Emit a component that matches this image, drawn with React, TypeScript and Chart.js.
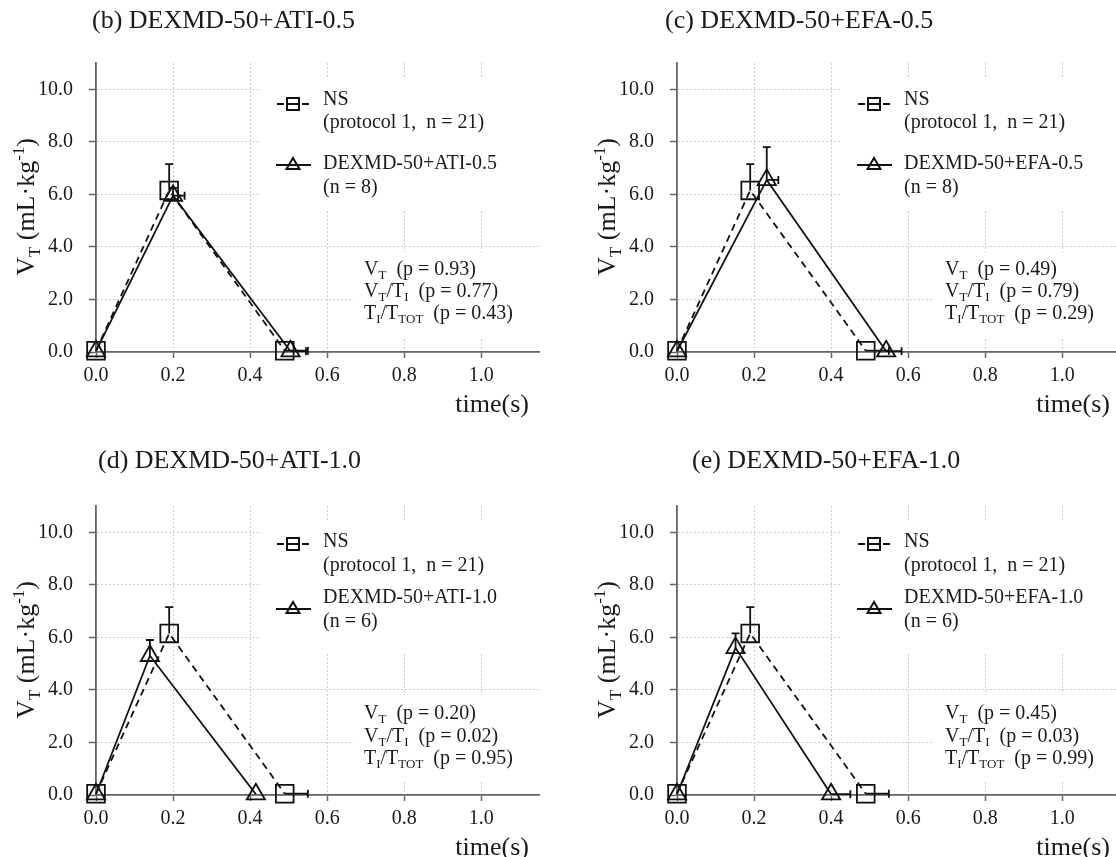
import React, { useEffect, useRef } from "react";
import Chart from "chart.js/auto";

const FONT = '"Liberation Serif", "Times New Roman", serif';

// ---- data ----
const xTickValues = [0, 0.2, 0.4, 0.6, 0.8, 1.0];
const yTickValues = [0, 2, 4, 6, 8, 10];
const X_MAX = 1.15;
const Y_MAX = 11;

// NS (protocol 1, n = 21): same control in every panel
const nsTime = [0, 0.19, 0.49];
const nsVt = [0.05, 6.15, 0.05];
const nsErrUp = [0, 1.0, 0];
const nsErrRight = [0, 0, 0.06];

const panelTitles = [
  "(b) DEXMD-50+ATI-0.5",
  "(c) DEXMD-50+EFA-0.5",
  "(d) DEXMD-50+ATI-1.0",
  "(e) DEXMD-50+EFA-1.0",
];
const groupNames = ["DEXMD-50+ATI-0.5", "DEXMD-50+EFA-0.5", "DEXMD-50+ATI-1.0", "DEXMD-50+EFA-1.0"];
const groupN = [8, 8, 6, 6];

const bTime = [0, 0.2, 0.505];
const bVt = [0.03, 5.95, 0.03];
const bErrUp = [0, 0.3, 0];
const bErrRight = [0, 0.03, 0.04];

const cTime = [0, 0.233, 0.543];
const cVt = [0.03, 6.55, 0.03];
const cErrUp = [0, 1.25, 0];
const cErrRight = [0, 0.03, 0.04];

const dTime = [0, 0.14, 0.415];
const dVt = [0.03, 5.3, 0.03];
const dErrUp = [0, 0.6, 0];
const dErrRight = [0, 0, 0];

const eTime = [0, 0.152, 0.4];
const eVt = [0.03, 5.6, 0.03];
const eErrUp = [0, 0.55, 0];
const eErrRight = [0, 0, 0.05];

const pVt = ["0.93", "0.49", "0.20", "0.45"];
const pVtTi = ["0.77", "0.79", "0.02", "0.03"];
const pTiTtot = ["0.43", "0.29", "0.95", "0.99"];

const groupTime = [bTime, cTime, dTime, eTime];
const groupVt = [bVt, cVt, dVt, eVt];
const groupErrUp = [bErrUp, cErrUp, dErrUp, eErrUp];
const groupErrRight = [bErrRight, cErrRight, dErrRight, eErrRight];

// ---- layout (styles) ----
const CW = 560;
const CH = 443;
const panelPos = [
  { left: 0, top: 0 },
  { left: 581, top: 0 },
  { left: 0, top: 443 },
  { left: 581, top: 443 },
];
const titleX = [92, 84, 98, 111];
const INK = "#1a1a1a";

type Seg = { t: string; s?: "sub" | "sup" };

function drawRich(ctx: CanvasRenderingContext2D, segs: Seg[], x: number, yCenter: number, size: number, align: "left" | "center" | "right") {
  const base = yCenter + size * 0.3;
  let w = 0;
  const widths: number[] = [];
  for (const seg of segs) {
    const sz = seg.s ? size * 0.65 : size;
    ctx.font = `${sz}px ${FONT}`;
    const m = ctx.measureText(seg.t).width;
    widths.push(m);
    w += m;
  }
  let cx = align === "left" ? x : align === "center" ? x - w / 2 : x - w;
  ctx.textAlign = "left";
  ctx.textBaseline = "alphabetic";
  segs.forEach((seg, i) => {
    const sz = seg.s ? size * 0.65 : size;
    const dy = seg.s === "sub" ? size * 0.22 : seg.s === "sup" ? -size * 0.36 : 0;
    ctx.font = `${sz}px ${FONT}`;
    ctx.fillText(seg.t, cx, base + dy);
    cx += widths[i];
  });
}

function drawErrors(chart: any, xs: number[], ys: number[], up: number[], right: number[]) {
  const ctx = chart.ctx as CanvasRenderingContext2D;
  const X = chart.scales.x;
  const Y = chart.scales.y;
  ctx.save();
  ctx.strokeStyle = "#111";
  ctx.lineWidth = 1.8;
  ctx.setLineDash([]);
  for (let i = 0; i < xs.length; i++) {
    const px = X.getPixelForValue(xs[i]);
    const py = Y.getPixelForValue(ys[i]);
    if (up[i] > 0) {
      const t = Y.getPixelForValue(ys[i] + up[i]);
      ctx.beginPath();
      ctx.moveTo(px, py);
      ctx.lineTo(px, t);
      ctx.moveTo(px - 4, t);
      ctx.lineTo(px + 4, t);
      ctx.stroke();
    }
    if (right[i] > 0) {
      const r = X.getPixelForValue(xs[i] + right[i]);
      ctx.beginPath();
      ctx.moveTo(px, py);
      ctx.lineTo(r, py);
      ctx.moveTo(r, py - 4);
      ctx.lineTo(r, py + 4);
      ctx.stroke();
    }
  }
  ctx.restore();
}

function makePlugin(idx: number) {
  const isTop = idx < 2;
  return {
    id: "panelDeco" + idx,
    beforeDatasetsDraw(chart: any) {
      const ctx = chart.ctx as CanvasRenderingContext2D;
      ctx.save();
      ctx.fillStyle = "#ffffff";
      ctx.fillRect(260, 78, 300, 132);
      ctx.fillRect(353, 252, 210, 86);
      ctx.restore();
    },
    afterDatasetsDraw(chart: any) {
      drawErrors(chart, nsTime, nsVt, nsErrUp, nsErrRight);
      drawErrors(chart, groupTime[idx], groupVt[idx], groupErrUp[idx], groupErrRight[idx]);
    },
    afterDraw(chart: any) {
      const ctx = chart.ctx as CanvasRenderingContext2D;
      ctx.save();
      ctx.fillStyle = INK;
      // title
      drawRich(ctx, [{ t: panelTitles[idx] }], titleX[idx], isTop ? 20 : 17, 26, "left");
      // x-axis title
      drawRich(ctx, [{ t: "time(s)" }], 529, 404, 26, "right");
      // y-axis title (rotated)
      ctx.save();
      ctx.translate(26, 207);
      ctx.rotate(-Math.PI / 2);
      drawRich(ctx, [{ t: "V" }, { t: "T", s: "sub" }, { t: " (mL·kg" }, { t: "-1", s: "sup" }, { t: ")" }], 0, 0, 26, "center");
      ctx.restore();

      // legend markers
      ctx.strokeStyle = "#111";
      ctx.lineWidth = 2;
      const nsY = isTop ? 104 : 101;
      ctx.beginPath();
      ctx.moveTo(277, nsY); ctx.lineTo(284, nsY);
      ctx.moveTo(288, nsY); ctx.lineTo(298, nsY);
      ctx.moveTo(302, nsY); ctx.lineTo(309, nsY);
      ctx.stroke();
      ctx.strokeRect(287, nsY - 6, 12, 12);
      const trY = isTop ? 165 : 166;
      ctx.beginPath();
      ctx.moveTo(276, trY); ctx.lineTo(311, trY);
      ctx.stroke();
      ctx.beginPath();
      ctx.moveTo(293, trY - 7);
      ctx.lineTo(299.5, trY + 4);
      ctx.lineTo(286.5, trY + 4);
      ctx.closePath();
      ctx.stroke();

      // legend text
      ctx.fillStyle = INK;
      drawRich(ctx, [{ t: "NS" }], 323, isTop ? 99 : 98, 20, "left");
      drawRich(ctx, [{ t: "(protocol 1,  n = 21)" }], 323, 122, 20, "left");
      drawRich(ctx, [{ t: groupNames[idx] }], 323, isTop ? 163 : 154, 20, "left");
      drawRich(ctx, [{ t: `(n = ${groupN[idx]})` }], 323, isTop ? 187 : 178, 20, "left");

      // statistics
      const sy = isTop ? [269, 291, 313] : [270, 293, 315];
      drawRich(ctx, [{ t: "V" }, { t: "T", s: "sub" }, { t: `  (p = ${pVt[idx]})` }], 364, sy[0], 20, "left");
      drawRich(ctx, [{ t: "V" }, { t: "T", s: "sub" }, { t: "/T" }, { t: "I", s: "sub" }, { t: `  (p = ${pVtTi[idx]})` }], 364, sy[1], 20, "left");
      drawRich(ctx, [{ t: "T" }, { t: "I", s: "sub" }, { t: "/T" }, { t: "TOT", s: "sub" }, { t: `  (p = ${pTiTtot[idx]})` }], 364, sy[2], 20, "left");
      ctx.restore();
    },
  };
}

function Panel({ idx }: { idx: number }) {
  const ref = useRef<HTMLCanvasElement | null>(null);
  useEffect(() => {
    if (!ref.current) return;
    const tickFont = { family: FONT, size: 20 };
    const chart = new Chart(ref.current, {
      type: "line",
      data: {
        datasets: [
          {
            label: "NS",
            data: nsTime.map((x, i) => ({ x, y: nsVt[i] })),
            borderColor: "#111",
            borderWidth: 1.8,
            borderDash: [7, 5],
            pointStyle: "rect",
            pointRadius: 12.5,
            pointBorderWidth: 1.8,
            pointBorderColor: "#111",
            pointBackgroundColor: "rgba(0,0,0,0)",
            fill: false,
            tension: 0,
            clip: false,
          } as any,
          {
            label: groupNames[idx],
            data: groupTime[idx].map((x, i) => ({ x, y: groupVt[idx][i] })),
            borderColor: "#111",
            borderWidth: 1.8,
            pointStyle: "triangle",
            pointRadius: 10.5,
            pointBorderWidth: 1.8,
            pointBorderColor: "#111",
            pointBackgroundColor: "rgba(0,0,0,0)",
            fill: false,
            tension: 0,
            clip: false,
          } as any,
        ],
      },
      options: {
        responsive: false,
        animation: false,
        devicePixelRatio: 1,
        layout: { padding: { left: 0, top: 63, right: CW - 539, bottom: 0 } },
        plugins: { legend: { display: false }, tooltip: { enabled: false }, title: { display: false } },
        events: [],
        scales: {
          x: {
            type: "linear",
            min: 0,
            max: X_MAX,
            afterBuildTicks: (s: any) => {
              s.ticks = xTickValues.map((v) => ({ value: v }));
            },
            afterFit: (s: any) => {
              s.height = CH - 352;
            },
            ticks: {
              callback: (v: any) => Number(v).toFixed(1),
              font: tickFont,
              color: INK,
              padding: 6,
              maxRotation: 0,
              autoSkip: false,
              includeBounds: false,
            },
            grid: { color: "#cccccc", lineWidth: 1, tickLength: 6, tickColor: "#666", tickWidth: 1.5 },
            border: { display: true, color: "#666", width: 1.8, dash: [2, 2] },
          },
          y: {
            type: "linear",
            min: 0,
            max: Y_MAX,
            afterBuildTicks: (s: any) => {
              s.ticks = yTickValues.map((v) => ({ value: v }));
            },
            afterFit: (s: any) => {
              s.width = 96;
            },
            ticks: {
              callback: (v: any) => Number(v).toFixed(1),
              font: tickFont,
              color: INK,
              padding: 16,
              autoSkip: false,
              includeBounds: false,
            },
            grid: { color: "#cccccc", lineWidth: 1, tickLength: 7, tickColor: "#666", tickWidth: 1.5 },
            border: { display: true, color: "#666", width: 1.8, dash: [2, 2] },
          },
        },
      } as any,
      plugins: [makePlugin(idx)],
    });
    return () => chart.destroy();
  }, [idx]);
  const pos = panelPos[idx];
  return (
    <canvas
      ref={ref}
      width={CW}
      height={CH}
      style={{ position: "absolute", left: pos.left, top: pos.top, width: CW, height: CH }}
    />
  );
}

export default function App() {
  return (
    <div
      style={{
        position: "absolute",
        left: 0,
        top: 0,
        width: 1116,
        height: 857,
        overflow: "hidden",
        background: "#ffffff",
      }}
    >
      {[0, 1, 2, 3].map((i) => (
        <Panel key={i} idx={i} />
      ))}
    </div>
  );
}
